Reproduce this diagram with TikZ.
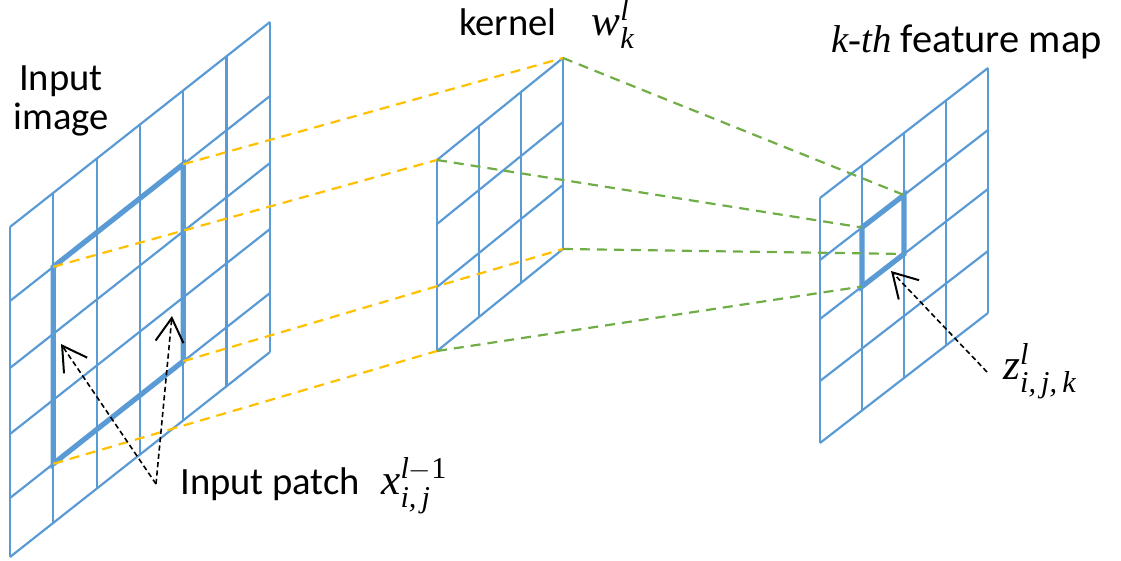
\documentclass[tikz,border=0pt]{standalone}
\usepackage{amsmath}
\usepackage{fontspec}
\setmainfont{Carlito}
\newfontfamily\varfont{Liberation Serif}[Scale=1.12]
\newcommand\mv[1]{\text{\varfont\itshape #1}}
\newcommand\mn[1]{\text{\varfont #1}}
\usetikzlibrary{arrows.meta}

\definecolor{gridblue}{RGB}{91,155,213}
\definecolor{linkgold}{RGB}{255,192,0}
\definecolor{linkgreen}{RGB}{112,173,71}

\tikzset{
  gridline/.style={gridblue, line width=1.1pt},
  thickedge/.style={gridblue, line width=2.6pt, line join=miter},
  goldlink/.style={linkgold, line width=1.1pt, dash pattern=on 5pt off 3.5pt},
  greenlink/.style={linkgreen, line width=1.1pt, dash pattern=on 5pt off 3.5pt},
  pointer/.style={black, line width=0.8pt, dash pattern=on 2.6pt off 1.6pt,
    -{Straight Barb[length=12pt, width=14pt, line width=1pt]}},
  lbl/.style={inner sep=0pt, font=\fontsize{19.3}{19.5}\selectfont},
}

\begin{document}
\begin{tikzpicture}[x=0.5pt, y=-0.5pt]
    \useasboundingbox (0,0) rectangle (1121,561);

    % input image
    \foreach \i in {0,...,6}
        \draw [gridline] (10+43.3*\i, 227-34.2*\i) -- ++(0,330);
    \foreach \r in {0,74,141,207,271,330}
        \draw [gridline] (10,227+\r) -- ++(260,-205);

    % kernel
    \foreach \i in {0,...,3}
        \draw [gridline] (437+42*\i, 160-34*\i) -- ++(0,191);
    \foreach \r in {0,64,127,191}
        \draw [gridline] (437,160+\r) -- ++(126,-102);

    % feature map
    \foreach \i in {0,...,4}
        \draw [gridline] (820+42*\i, 198-32.5*\i) -- ++(0,245);
    \foreach \r in {0,62,121,183,245}
        \draw [gridline] (820,198+\r) -- ++(168,-130);

    \coordinate (patch-tl) at (53.3,266.8);
    \coordinate (patch-tr) at (183.2,164.2);
    \coordinate (patch-br) at (183.2,361.2);
    \coordinate (patch-bl) at (53.3,463.8);
    \coordinate (kern-tl) at (437,160);
    \coordinate (kern-tr) at (563,58);
    \coordinate (kern-br) at (563,249);
    \coordinate (kern-bl) at (437,351);
    \coordinate (cell-tl) at (862,227.5);
    \coordinate (cell-tr) at (904,195);
    \coordinate (cell-br) at (904,254);
    \coordinate (cell-bl) at (862,286.5);

    \draw [thickedge] (patch-tl) -- (patch-tr) -- (patch-br) -- (patch-bl) -- cycle;
    \draw [thickedge] (cell-tl) -- (cell-tr) -- (cell-br) -- (cell-bl) -- cycle;

    \draw [goldlink] (patch-tr) -- (kern-tr);
    \draw [goldlink] (patch-tl) -- (kern-tl);
    \draw [goldlink] (patch-br) -- (kern-br);
    \draw [goldlink] (patch-bl) -- (kern-bl);
    \draw [greenlink] (kern-tr) -- (cell-tr);
    \draw [greenlink] (kern-tl) -- (cell-tl);
    \draw [greenlink] (kern-br) -- (cell-br);
    \draw [greenlink] (kern-bl) -- (cell-bl);

    \node [lbl, align=center] (image-lbl) at (61,101) {Input\\image};
    \node [lbl, anchor=base west] (kernel-lbl) at (459,36)
        {kernel\hspace{0.9em}$\mv{w}_{\mv{k}}^{\mv{l}}$};
    \node [lbl, anchor=base west, font=\fontsize{20.2}{21}\selectfont] (map-lbl) at (831,53)
        {{\fontsize{17.3}{19}\selectfont\varfont\itshape k-th} feature map};
    \node [lbl, anchor=base west] (patch-lbl) at (180,495)
        {Input patch\hspace{0.55em}$\mv{x}_{\mv{i,\,j}}^{\mv{l}-\mn{1}}$};
    \node [lbl, anchor=base west] (out-lbl) at (1003,380)
        {$\mv{z}_{\mv{i,\,j,\,k}}^{\mv{l}}$};

    \coordinate (patch-tail) at (156,484);
    \coordinate (patch-tipL) at (61,344);
    \coordinate (patch-tipR) at (172,316);
    \coordinate (out-tail) at (987,372);
    \coordinate (out-tip) at (891,271);
    \draw [pointer] (patch-tail) -- (patch-tipL);
    \draw [pointer] (patch-tail) -- (patch-tipR);
    \draw [pointer] (out-tail) -- (out-tip);
\end{tikzpicture}
\end{document}
